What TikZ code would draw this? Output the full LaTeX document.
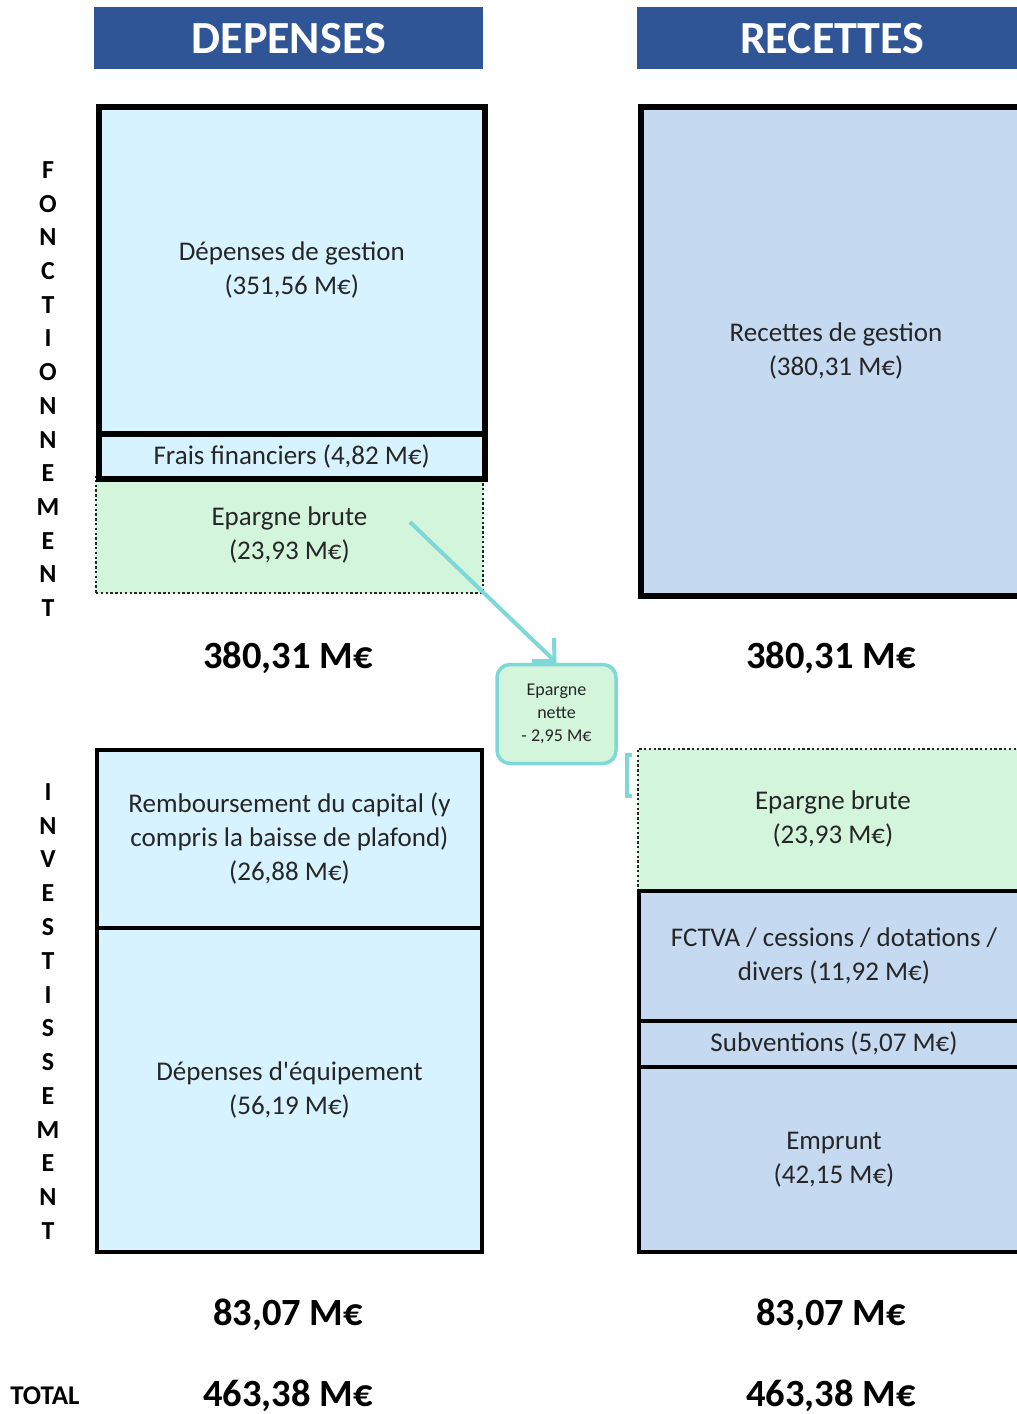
\documentclass[tikz,border=0pt]{standalone}
\usepackage{fontspec}
\setmainfont{Carlito}[Ligatures=TeXOff]
\usetikzlibrary{arrows.meta}
\definecolor{hdrblue}{HTML}{2F5597}
\definecolor{cyanfill}{HTML}{D7F3FF}
\definecolor{bluefill}{HTML}{C5D9F1}
\definecolor{greenfill}{HTML}{D3F5DC}
\definecolor{tealc}{HTML}{7ED8D8}
\definecolor{txt}{HTML}{262626}
\tikzset{
  body/.style={font=\fontsize{27}{34}\selectfont, text=txt, align=center, inner sep=0pt},
  thickbox/.style={body, draw=black, line width=6pt, anchor=north west},
  thinbox/.style={body, draw=black, line width=4pt, anchor=north west},
  dotbox/.style={body, draw=black!85, line width=1.8pt, dash pattern=on 2.4pt off 2.4pt, fill=greenfill, anchor=north west},
  header/.style={fill=hdrblue, text=white, font=\fontsize{46}{46}\selectfont\bfseries, inner sep=0pt, anchor=north west},
  total/.style={font=\fontsize{38.5}{38.5}\selectfont\bfseries, text=black, inner sep=0pt, text depth=0pt},
  vlet/.style={font=\fontsize{26}{26}\selectfont\bfseries, text=black, inner sep=0pt},
  netbox/.style={draw=tealc, line width=3.5pt, rounded corners=13pt, fill=greenfill, align=center, text=txt,
     font=\fontsize{18}{23}\selectfont, inner sep=0pt, minimum width=119pt, minimum height=99pt},
  flow/.style={draw=tealc, line width=4pt, -{Straight Barb[length=16pt, width=32pt]}}
}
\begin{document}
\begin{tikzpicture}[x=1pt, y=-1pt]
\useasboundingbox (0,0) rectangle (1017,1414);
\fill[white] (0,0) rectangle (1017,1414);

% headers
\node[header, minimum width=389pt, minimum height=62pt] (hdep) at (94,7) {DEPENSES};
\node[header, minimum width=390pt, minimum height=62pt] (hrec) at (637,7) {RECETTES};

% fonctionnement - depenses
\node[thickbox, fill=cyanfill, minimum width=385.5pt, minimum height=327pt] (dg) at (96,103.5)
  {Dépenses de gestion\\(351,56 M€)};
\node[dotbox, minimum width=387pt, minimum height=116pt] (eb1) at (95,476)
  {Epargne brute\\(23,93 M€)};
\node[thickbox, fill=cyanfill, minimum width=385.5pt, minimum height=45.5pt] (ff) at (96,430.5)
  {Frais financiers (4,82 M€)};

% fonctionnement - recettes
\node[thickbox, fill=bluefill, minimum width=390pt, minimum height=489pt] (rg) at (638,103.5)
  {Recettes de gestion\\(380,31 M€)};

% totals fonctionnement
\node[total] (t1) at (288,655) {380,31 M€};
\node[total] (t2) at (831,655) {380,31 M€};

% epargne nette
\node[netbox] (en) at (556.5,714) {Epargne\\nette\\- 2,95 M€};
\coordinate (astart) at (410,522);
\draw[flow] (astart) -- (en.north);
\draw[tealc, line width=3.5pt] (632,755) -- (627,755) -- (627,796) -- (632,796);

% investissement - depenses
\node[thinbox, fill=cyanfill, minimum width=385pt, minimum height=177.5pt] (rc) at (95,748)
  {Remboursement du capital (y\\compris la baisse de plafond)\\(26,88 M€)};
\node[thinbox, fill=cyanfill, minimum width=385pt, minimum height=324.5pt] (de) at (95,925.5)
  {Dépenses d'équipement\\(56,19 M€)};

% investissement - recettes
\node[dotbox, minimum width=390pt, minimum height=140.5pt] (eb2) at (637,748)
  {Epargne brute\\(23,93 M€)};
\node[thinbox, fill=bluefill, minimum width=390pt, minimum height=130.5pt] (fc) at (637,888.5)
  {FCTVA / cessions / dotations /\\divers (11,92 M€)};
\node[thinbox, fill=bluefill, minimum width=390pt, minimum height=45.5pt] (sv) at (637,1019)
  {Subventions (5,07 M€)};
\node[thinbox, fill=bluefill, minimum width=390pt, minimum height=185.5pt] (em) at (637,1064.5)
  {Emprunt\\(42,15 M€)};

% totals investissement
\node[total] (t3) at (288,1312) {83,07 M€};
\node[total] (t4) at (831,1312) {83,07 M€};
\node[font=\fontsize{27}{27}\selectfont\bfseries, inner sep=0pt] (tt) at (45,1396) {TOTAL};
\node[total] (t5) at (288,1393) {463,38 M€};
\node[total] (t6) at (831,1393) {463,38 M€};

% vertical labels
\foreach \l [count=\i] in {F,O,N,C,T,I,O,N,N,E,M,E,N,T}
  \node[vlet] (fo\i) at (48,{170+(\i-1)*33.7}) {\l};
\foreach \l [count=\i] in {I,N,V,E,S,T,I,S,S,E,M,E,N,T}
  \node[vlet] (in\i) at (48,{792+(\i-1)*33.77}) {\l};
\end{tikzpicture}
\end{document}
